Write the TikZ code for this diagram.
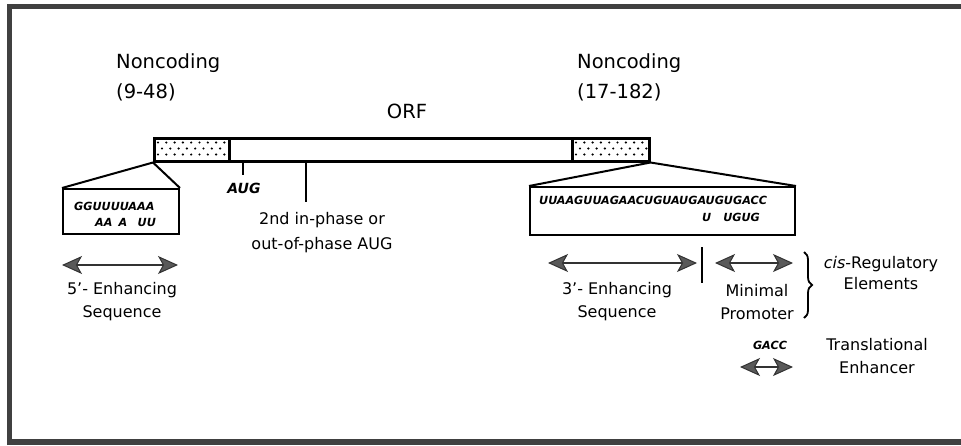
\documentclass[tikz,border=0pt]{standalone}
\usepackage{fontspec}
\setmainfont{DejaVu Sans}
\usetikzlibrary{arrows.meta,decorations.pathreplacing}
\begin{document}
\begin{tikzpicture}[x=1pt,y=-1pt,
  big/.style={font=\fontsize{19.5}{30}\selectfont, inner sep=0pt, align=left},
  lbl/.style={font=\fontsize{16}{23}\selectfont, inner sep=0pt, align=center},
  seq/.style={font=\bfseries\itshape\fontsize{11.2}{13}\selectfont, inner sep=0pt},
  augl/.style={font=\bfseries\itshape\fontsize{14}{16}\selectfont, inner sep=0pt},
  boxline/.style={draw=black, line width=2pt},
  tick/.style={draw=black, line width=2pt},
  headtip/.tip={Stealth[length=20pt,width=18pt,inset=5pt,fill=black!65,line width=1pt]},
  dbl/.style={draw=black!80, line width=2pt, headtip-headtip},
  frame/.style={draw=black!75, line width=5pt},
  dotfill/.style={fill=black}
]
\useasboundingbox (0,0) rectangle (961,445);
% frame
\coordinate (fa) at (9.5,445);
\coordinate (fb) at (9.5,6.5);
\coordinate (fc) at (961,6.5);
\coordinate (fd) at (7,442);
\coordinate (fe) at (961,442);
\draw[frame] (fa) -- (fb) -- (fc);
\draw[frame, line width=6pt] (fd) -- (fe);

% headings
\node[big, anchor=west] (nc1) at (116,77) {Noncoding\\(9-48)};
\node[big, anchor=west] (nc2) at (577,77) {Noncoding\\(17-182)};
\node[big] (orf) at (407,111) {ORF};

% main bar
\node[draw=black, line width=2.5pt, minimum width=495, minimum height=23, inner sep=0pt, anchor=north west] (bar) at (153,137) {};
\node[draw=black, line width=2.5pt, minimum width=75, minimum height=23, inner sep=0pt, anchor=north west] (d5) at (153,137) {};
\node[draw=black, line width=2.5pt, minimum width=77, minimum height=23, inner sep=0pt, anchor=north west] (d3) at (571,137) {};
\foreach \i in {0,...,8} {\fill[dotfill] (158+\i*8.3,142.5) circle (1.2); \fill[dotfill] (158+\i*8.3,154.5) circle (1.2);}
\foreach \i in {0,...,7} {\fill[dotfill] (162+\i*8.3,148.5) circle (1.2);}
\foreach \i in {0,...,8} {\fill[dotfill] (576+\i*8.3,142.5) circle (1.2); \fill[dotfill] (576+\i*8.3,154.5) circle (1.2);}
\foreach \i in {0,...,8} {\fill[dotfill] (580+\i*8.3,148.5) circle (1.2);}

% AUG ticks
\coordinate (t1a) at (243,160);
\coordinate (t1b) at (243,175);
\coordinate (t2a) at (306,160);
\coordinate (t2b) at (306,202);
\draw[tick] (t1a) -- (t1b);
\draw[tick] (t2a) -- (t2b);
\node[augl] (aug) at (244,188) {AUG};
\node[lbl, font=\fontsize{16}{25}\selectfont] (aug2) at (322,233) {2nd in-phase or\\out-of-phase AUG};

% left zoom box
\node[boxline, minimum width=116, minimum height=45, inner sep=0pt, anchor=north west] (lbox) at (62,188) {};
\draw[boxline] (bar.south west) -- (lbox.north west);
\draw[boxline] (bar.south west) -- (lbox.north east);
\node[seq, anchor=west] (s1) at (74,206) {GGUUUUAAA};
\node[seq, anchor=west] (s2) at (95,222) {AA\hspace{6pt}A\hspace{10.5pt}UU};

% right zoom box
\node[boxline, minimum width=265, minimum height=48, inner sep=0pt, anchor=north west] (rbox) at (529,186) {};
\draw[boxline] (bar.south east) -- (rbox.north west);
\draw[boxline] (bar.south east) -- (rbox.north east);
\node[seq, anchor=west] (s3) at (539,200) {UUAAGUUAGAACUGUAUGAUGUGACC};
\node[seq, anchor=west] (s4) at (702,217) {U\hspace{12pt}UGUG};

% 5' enhancing
\coordinate (a1l) at (62,265);
\coordinate (a1r) at (178,265);
\draw[dbl] (a1l) -- (a1r);
\node[lbl] (e5) at (122,302) {5'- Enhancing\\Sequence};

% 3' enhancing
\coordinate (a2l) at (548,263);
\coordinate (a2r) at (697,263);
\draw[dbl] (a2l) -- (a2r);
\coordinate (vb1) at (702,247);
\coordinate (vb2) at (702,283);
\draw[tick] (vb1) -- (vb2);
\node[lbl] (e3) at (617,302) {3'- Enhancing\\Sequence};

% minimal promoter
\coordinate (a3l) at (715,263);
\coordinate (a3r) at (793,263);
\draw[dbl] (a3l) -- (a3r);
\node[lbl] (mp) at (757,302) {Minimal\\Promoter};

% brace
\coordinate (br1) at (804,252);
\coordinate (br2) at (804,318);
\draw[line width=1.8pt, decorate, decoration={brace, amplitude=8pt}] (br1) -- (br2);
\node[lbl, font=\fontsize{16}{21}\selectfont] (cis) at (881,273) {\textit{cis}-Regulatory\\Elements};

% translational enhancer
\node[seq] (gacc) at (770,345) {GACC};
\coordinate (a4l) at (740,367);
\coordinate (a4r) at (793,367);
\draw[dbl] (a4l) -- (a4r);
\node[lbl] (te) at (877,356) {Translational\\Enhancer};
\end{tikzpicture}
\end{document}
